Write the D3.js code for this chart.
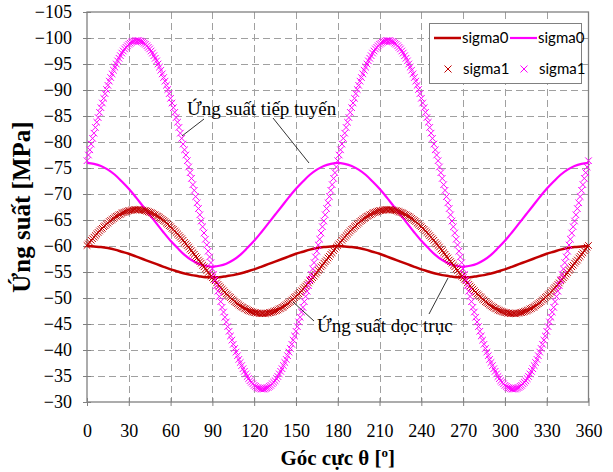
<!DOCTYPE html>
<html>
<head>
<meta charset="utf-8">
<script src="https://cdn.jsdelivr.net/npm/d3@7"></script>
<style>
  body { margin: 0; background: #fff; }
</style>
</head>
<body>
<div id="chart"></div>
<script>
// truc
var xTicks = [0, 30, 60, 90, 120, 150, 180, 210, 240, 270, 300, 330, 360];
var yTicks = [-105, -100, -95, -90, -85, -80, -75, -70, -65, -60, -55, -50, -45, -40, -35, -30];

// sigma0 - duong lien, buoc 5 do
var theta0 = d3.range(0, 361, 5);
var sigma0Red = [-60.0,-59.9,-59.8,-59.6,-59.3,-58.9,-58.5,-58.0,-57.5,-57.0,-56.5,-56.0,-55.5,-55.1,-54.7,-54.4,-54.2,-54.0,-54.0,
  -54.0,-54.2,-54.4,-54.7,-55.1,-55.5,-56.0,-56.5,-57.0,-57.5,-58.0,-58.5,-58.9,-59.3,-59.6,-59.8,-59.9,-60.0,
  -59.9,-59.8,-59.6,-59.3,-58.9,-58.5,-58.0,-57.5,-57.0,-56.5,-56.0,-55.5,-55.1,-54.7,-54.4,-54.2,-54.0,-54.0,
  -54.0,-54.2,-54.4,-54.7,-55.1,-55.5,-56.0,-56.5,-57.0,-57.5,-58.0,-58.5,-58.9,-59.3,-59.6,-59.8,-59.9,-60.0];
var sigma0Pink = [-76.0,-75.8,-75.4,-74.7,-73.7,-72.4,-71.0,-69.4,-67.7,-66.0,-64.3,-62.6,-61.0,-59.6,-58.3,-57.3,-56.6,-56.2,-56.0,
  -56.2,-56.6,-57.3,-58.3,-59.6,-61.0,-62.6,-64.3,-66.0,-67.7,-69.4,-71.0,-72.4,-73.7,-74.7,-75.4,-75.8,-76.0,
  -75.8,-75.4,-74.7,-73.7,-72.4,-71.0,-69.4,-67.7,-66.0,-64.3,-62.6,-61.0,-59.6,-58.3,-57.3,-56.6,-56.2,-56.0,
  -56.2,-56.6,-57.3,-58.3,-59.6,-61.0,-62.6,-64.3,-66.0,-67.7,-69.4,-71.0,-72.4,-73.7,-74.7,-75.4,-75.8,-76.0];

// sigma1 - diem danh dau, buoc 1 do
var theta1 = d3.range(0, 361, 1);
var sigma1Red = [
  -60.1,-60.4,-60.7,-61.1,-61.4,-61.7,-62.0,-62.3,-62.6,-62.9,
  -63.2,-63.4,-63.7,-63.9,-64.2,-64.4,-64.7,-64.9,-65.1,-65.3,
  -65.5,-65.7,-65.8,-66.0,-66.1,-66.3,-66.4,-66.5,-66.6,-66.7,
  -66.8,-66.8,-66.9,-66.9,-67.0,-67.0,-67.0,-67.0,-67.0,-66.9,
  -66.9,-66.8,-66.8,-66.7,-66.6,-66.5,-66.4,-66.3,-66.1,-66.0,
  -65.8,-65.7,-65.5,-65.3,-65.1,-64.9,-64.7,-64.4,-64.2,-63.9,
  -63.7,-63.4,-63.2,-62.9,-62.6,-62.3,-62.0,-61.7,-61.4,-61.1,
  -60.7,-60.4,-60.1,-59.8,-59.4,-59.1,-58.7,-58.4,-58.0,-57.7,
  -57.3,-57.0,-56.7,-56.3,-56.0,-55.6,-55.3,-54.9,-54.6,-54.2,
  -53.9,-53.6,-53.3,-52.9,-52.6,-52.3,-52.0,-51.7,-51.4,-51.1,
  -50.8,-50.6,-50.3,-50.1,-49.8,-49.6,-49.3,-49.1,-48.9,-48.7,
  -48.5,-48.3,-48.2,-48.0,-47.9,-47.7,-47.6,-47.5,-47.4,-47.3,
  -47.2,-47.2,-47.1,-47.1,-47.0,-47.0,-47.0,-47.0,-47.0,-47.1,
  -47.1,-47.2,-47.2,-47.3,-47.4,-47.5,-47.6,-47.7,-47.9,-48.0,
  -48.2,-48.3,-48.5,-48.7,-48.9,-49.1,-49.3,-49.6,-49.8,-50.1,
  -50.3,-50.6,-50.8,-51.1,-51.4,-51.7,-52.0,-52.3,-52.6,-52.9,
  -53.3,-53.6,-53.9,-54.2,-54.6,-54.9,-55.3,-55.6,-56.0,-56.3,
  -56.7,-57.0,-57.3,-57.7,-58.0,-58.4,-58.7,-59.1,-59.4,-59.8,
  -60.1,-60.4,-60.7,-61.1,-61.4,-61.7,-62.0,-62.3,-62.6,-62.9,
  -63.2,-63.4,-63.7,-63.9,-64.2,-64.4,-64.7,-64.9,-65.1,-65.3,
  -65.5,-65.7,-65.8,-66.0,-66.1,-66.3,-66.4,-66.5,-66.6,-66.7,
  -66.8,-66.8,-66.9,-66.9,-67.0,-67.0,-67.0,-67.0,-67.0,-66.9,
  -66.9,-66.8,-66.8,-66.7,-66.6,-66.5,-66.4,-66.3,-66.1,-66.0,
  -65.8,-65.7,-65.5,-65.3,-65.1,-64.9,-64.7,-64.4,-64.2,-63.9,
  -63.7,-63.4,-63.2,-62.9,-62.6,-62.3,-62.0,-61.7,-61.4,-61.1,
  -60.7,-60.4,-60.1,-59.8,-59.4,-59.1,-58.7,-58.4,-58.0,-57.7,
  -57.3,-57.0,-56.7,-56.3,-56.0,-55.6,-55.3,-54.9,-54.6,-54.2,
  -53.9,-53.6,-53.3,-52.9,-52.6,-52.3,-52.0,-51.7,-51.4,-51.1,
  -50.8,-50.6,-50.3,-50.1,-49.8,-49.6,-49.3,-49.1,-48.9,-48.7,
  -48.5,-48.3,-48.2,-48.0,-47.9,-47.7,-47.6,-47.5,-47.4,-47.3,
  -47.2,-47.2,-47.1,-47.1,-47.0,-47.0,-47.0,-47.0,-47.0,-47.1,
  -47.1,-47.2,-47.2,-47.3,-47.4,-47.5,-47.6,-47.7,-47.9,-48.0,
  -48.2,-48.3,-48.5,-48.7,-48.9,-49.1,-49.3,-49.6,-49.8,-50.1,
  -50.3,-50.6,-50.8,-51.1,-51.4,-51.7,-52.0,-52.3,-52.6,-52.9,
  -53.3,-53.6,-53.9,-54.2,-54.6,-54.9,-55.3,-55.6,-56.0,-56.3,
  -56.7,-57.0,-57.3,-57.7,-58.0,-58.4,-58.7,-59.1,-59.4,-59.8,
  -60.1];
var sigma1Pink = [
  -76.4,-77.5,-78.5,-79.6,-80.7,-81.7,-82.8,-83.8,-84.7,-85.7,
  -86.6,-87.5,-88.4,-89.3,-90.1,-90.9,-91.7,-92.4,-93.1,-93.8,
  -94.4,-95.0,-95.6,-96.1,-96.6,-97.1,-97.5,-97.9,-98.2,-98.5,
  -98.8,-99.0,-99.2,-99.3,-99.4,-99.5,-99.5,-99.5,-99.4,-99.3,
  -99.2,-99.0,-98.8,-98.5,-98.2,-97.9,-97.5,-97.1,-96.6,-96.1,
  -95.6,-95.0,-94.4,-93.8,-93.1,-92.4,-91.7,-90.9,-90.1,-89.3,
  -88.4,-87.5,-86.6,-85.7,-84.7,-83.8,-82.8,-81.7,-80.7,-79.6,
  -78.5,-77.5,-76.4,-75.2,-74.1,-73.0,-71.8,-70.7,-69.5,-68.3,
  -67.2,-66.0,-64.8,-63.7,-62.5,-61.3,-60.2,-59.0,-57.9,-56.8,
  -55.6,-54.5,-53.5,-52.4,-51.3,-50.3,-49.3,-48.2,-47.3,-46.3,
  -45.4,-44.5,-43.6,-42.7,-41.9,-41.1,-40.3,-39.6,-38.9,-38.2,
  -37.6,-37.0,-36.4,-35.9,-35.4,-34.9,-34.5,-34.1,-33.8,-33.5,
  -33.2,-33.0,-32.8,-32.7,-32.6,-32.5,-32.5,-32.5,-32.6,-32.7,
  -32.8,-33.0,-33.2,-33.5,-33.8,-34.1,-34.5,-34.9,-35.4,-35.9,
  -36.4,-37.0,-37.6,-38.2,-38.9,-39.6,-40.3,-41.1,-41.9,-42.7,
  -43.6,-44.5,-45.4,-46.3,-47.3,-48.2,-49.3,-50.3,-51.3,-52.4,
  -53.5,-54.5,-55.6,-56.8,-57.9,-59.0,-60.2,-61.3,-62.5,-63.7,
  -64.8,-66.0,-67.2,-68.3,-69.5,-70.7,-71.8,-73.0,-74.1,-75.2,
  -76.4,-77.5,-78.5,-79.6,-80.7,-81.7,-82.8,-83.8,-84.7,-85.7,
  -86.6,-87.5,-88.4,-89.3,-90.1,-90.9,-91.7,-92.4,-93.1,-93.8,
  -94.4,-95.0,-95.6,-96.1,-96.6,-97.1,-97.5,-97.9,-98.2,-98.5,
  -98.8,-99.0,-99.2,-99.3,-99.4,-99.5,-99.5,-99.5,-99.4,-99.3,
  -99.2,-99.0,-98.8,-98.5,-98.2,-97.9,-97.5,-97.1,-96.6,-96.1,
  -95.6,-95.0,-94.4,-93.8,-93.1,-92.4,-91.7,-90.9,-90.1,-89.3,
  -88.4,-87.5,-86.6,-85.7,-84.7,-83.8,-82.8,-81.7,-80.7,-79.6,
  -78.5,-77.5,-76.4,-75.2,-74.1,-73.0,-71.8,-70.7,-69.5,-68.3,
  -67.2,-66.0,-64.8,-63.7,-62.5,-61.3,-60.2,-59.0,-57.9,-56.8,
  -55.6,-54.5,-53.5,-52.4,-51.3,-50.3,-49.3,-48.2,-47.3,-46.3,
  -45.4,-44.5,-43.6,-42.7,-41.9,-41.1,-40.3,-39.6,-38.9,-38.2,
  -37.6,-37.0,-36.4,-35.9,-35.4,-34.9,-34.5,-34.1,-33.8,-33.5,
  -33.2,-33.0,-32.8,-32.7,-32.6,-32.5,-32.5,-32.5,-32.6,-32.7,
  -32.8,-33.0,-33.2,-33.5,-33.8,-34.1,-34.5,-34.9,-35.4,-35.9,
  -36.4,-37.0,-37.6,-38.2,-38.9,-39.6,-40.3,-41.1,-41.9,-42.7,
  -43.6,-44.5,-45.4,-46.3,-47.3,-48.2,-49.3,-50.3,-51.3,-52.4,
  -53.5,-54.5,-55.6,-56.8,-57.9,-59.0,-60.2,-61.3,-62.5,-63.7,
  -64.8,-66.0,-67.2,-68.3,-69.5,-70.7,-71.8,-73.0,-74.1,-75.2,
  -76.4];

var legendLabels = ["sigma0", "sigma0", "sigma1", "sigma1"];

var RED = "#c00000", PINK = "#ff00ff";

function drawChart() {
    var W = 613, H = 472;
    var left = 87, right = 588.5, top = 12, bottom = 402;

    var svg = d3.select("#chart").append("svg")
        .attr("width", W)
        .attr("height", H)
        .style("font-family", "'Liberation Serif', serif");

    var x = d3.scaleLinear().domain([0, 360]).range([left, right]);
    var y = d3.scaleLinear().domain([-105, -30]).range([top, bottom]);

    // luoi
    var grid = svg.append("g").attr("class", "grid")
        .attr("stroke", "#a0a0a0")
        .attr("stroke-width", 1)
        .attr("stroke-dasharray", "7,4");

    grid.selectAll("line.v")
        .data(xTicks.slice(1, -1))
        .enter().append("line")
        .attr("class", "v")
        .attr("x1", function(d) { return Math.round(x(d)) + 0.5; })
        .attr("x2", function(d) { return Math.round(x(d)) + 0.5; })
        .attr("y1", top)
        .attr("y2", bottom);

    grid.selectAll("line.h")
        .data(yTicks.slice(1, -1))
        .enter().append("line")
        .attr("class", "h")
        .attr("y1", function(d) { return Math.round(y(d)) + 0.5; })
        .attr("y2", function(d) { return Math.round(y(d)) + 0.5; })
        .attr("x1", left)
        .attr("x2", right);

    // khung
    svg.append("rect")
        .attr("x", left)
        .attr("y", top)
        .attr("width", right - left)
        .attr("height", bottom - top)
        .attr("fill", "none")
        .attr("stroke", "#808080")
        .attr("stroke-width", 1.3);

    // truc y (dao nguoc)
    var yAxis = svg.append("g")
        .attr("transform", "translate(" + left + ",0)")
        .call(d3.axisLeft(y).tickValues(yTicks).tickSize(4).tickPadding(11));
    yAxis.select(".domain").remove();
    yAxis.selectAll(".tick line").attr("stroke", "#808080").attr("x2", 4).attr("x1", -4);
    yAxis.selectAll(".tick text")
        .attr("x", -15)
        .style("font-family", "'Liberation Serif', serif")
        .style("font-size", "18px")
        .attr("fill", "#000");

    var xAxis = svg.append("g")
        .attr("transform", "translate(0," + bottom + ")")
        .call(d3.axisBottom(x).tickValues(xTicks).tickSize(4).tickPadding(18));
    xAxis.select(".domain").remove();
    xAxis.selectAll(".tick line").attr("stroke", "#808080").attr("y1", -4).attr("y2", 4);
    xAxis.selectAll(".tick text")
        .style("font-family", "'Liberation Serif', serif")
        .style("font-size", "18px")
        .attr("fill", "#000");

    // ten truc
    svg.append("text")
        .attr("transform", "translate(30," + ((top + bottom) / 2) + ") rotate(-90)")
        .attr("text-anchor", "middle")
        .style("font-size", "25px")
        .style("font-weight", "bold")
        .text("Ứng suất [MPa]");

    var xt = svg.append("text")
        .attr("x", (left + right) / 2)
        .attr("y", 465)
        .attr("text-anchor", "middle")
        .style("font-size", "21px")
        .style("font-weight", "bold");
    xt.append("tspan").text("Góc cực θ [");
    xt.append("tspan").attr("dy", -8).style("font-size", "13px").text("o");
    xt.append("tspan").attr("dy", 8).text("]");

    // sigma0 duong
    var line = d3.line()
        .x(function(d) { return x(d[0]); })
        .y(function(d) { return y(d[1]); })
        .curve(d3.curveCatmullRom);

    svg.append("path")
        .datum(d3.zip(theta0, sigma0Red))
        .attr("fill", "none")
        .attr("stroke", RED)
        .attr("stroke-width", 2.5)
        .attr("d", line);

    svg.append("path")
        .datum(d3.zip(theta0, sigma0Pink))
        .attr("fill", "none")
        .attr("stroke", PINK)
        .attr("stroke-width", 2.2)
        .attr("d", line);

    // sigma1 dau x
    var cross = "M-3.3,-3.3L3.3,3.3M-3.3,3.3L3.3,-3.3";

    svg.append("g").selectAll("path")
        .data(d3.zip(theta1, sigma1Red))
        .enter().append("path")
        .attr("transform", function(d) { return "translate(" + x(d[0]) + "," + y(d[1]) + ")"; })
        .attr("d", cross)
        .attr("stroke", RED)
        .attr("stroke-width", 1)
        .attr("fill", "none");

    svg.append("g").selectAll("path")
        .data(d3.zip(theta1, sigma1Pink))
        .enter().append("path")
        .attr("transform", function(d) { return "translate(" + x(d[0]) + "," + y(d[1]) + ")"; })
        .attr("d", cross)
        .attr("stroke", PINK)
        .attr("stroke-width", 1)
        .attr("fill", "none");

    // chu thich tren do thi
    var ann = svg.append("g").attr("stroke", "#000").attr("stroke-width", 0.8);
    ann.append("line").attr("x1", 204).attr("y1", 119).attr("x2", 182).attr("y2", 136);
    ann.append("line").attr("x1", 273).attr("y1", 118).attr("x2", 309).attr("y2", 163);
    ann.append("line").attr("x1", 314).attr("y1", 321).attr("x2", 293).attr("y2", 302);
    ann.append("line").attr("x1", 429).attr("y1", 314).attr("x2", 448).attr("y2", 278);

    svg.append("text")
        .attr("x", 187)
        .attr("y", 115)
        .style("font-size", "19px")
        .text("Ứng suất tiếp tuyến");

    svg.append("text")
        .attr("x", 317)
        .attr("y", 332)
        .style("font-size", "19px")
        .text("Ứng suất dọc trục");

    // chu giai
    var lg = svg.append("g").attr("class", "legend")
        .style("font-family", "Lato, 'Liberation Sans', sans-serif")
        .style("font-size", "15px");

    lg.append("rect")
        .attr("x", 429.5).attr("y", 23.5)
        .attr("width", 152).attr("height", 60)
        .attr("fill", "#fff")
        .attr("stroke", "#808080");

    var items = [
        {type: "line", color: RED, x: 434, y: 38},
        {type: "line", color: PINK, x: 510, y: 38},
        {type: "mark", color: RED, x: 434, y: 69},
        {type: "mark", color: PINK, x: 510, y: 69}
    ];

    items.forEach(function(it, i) {
        if (it.type === "line") {
            lg.append("line")
                .attr("x1", it.x).attr("x2", it.x + 27)
                .attr("y1", it.y).attr("y2", it.y)
                .attr("stroke", it.color)
                .attr("stroke-width", it.color === RED ? 2.5 : 2.2);
        } else {
            lg.append("path")
                .attr("transform", "translate(" + (it.x + 14) + "," + it.y + ")")
                .attr("d", "M-3.5,-3.5L3.5,3.5M-3.5,3.5L3.5,-3.5")
                .attr("stroke", it.color)
                .attr("stroke-width", 1);
        }
        lg.append("text")
            .attr("x", it.x + (it.type === "line" ? 28 : 29))
            .attr("y", it.y + 5)
            .text(legendLabels[i]);
    });
}

drawChart();
</script>
</body>
</html>
